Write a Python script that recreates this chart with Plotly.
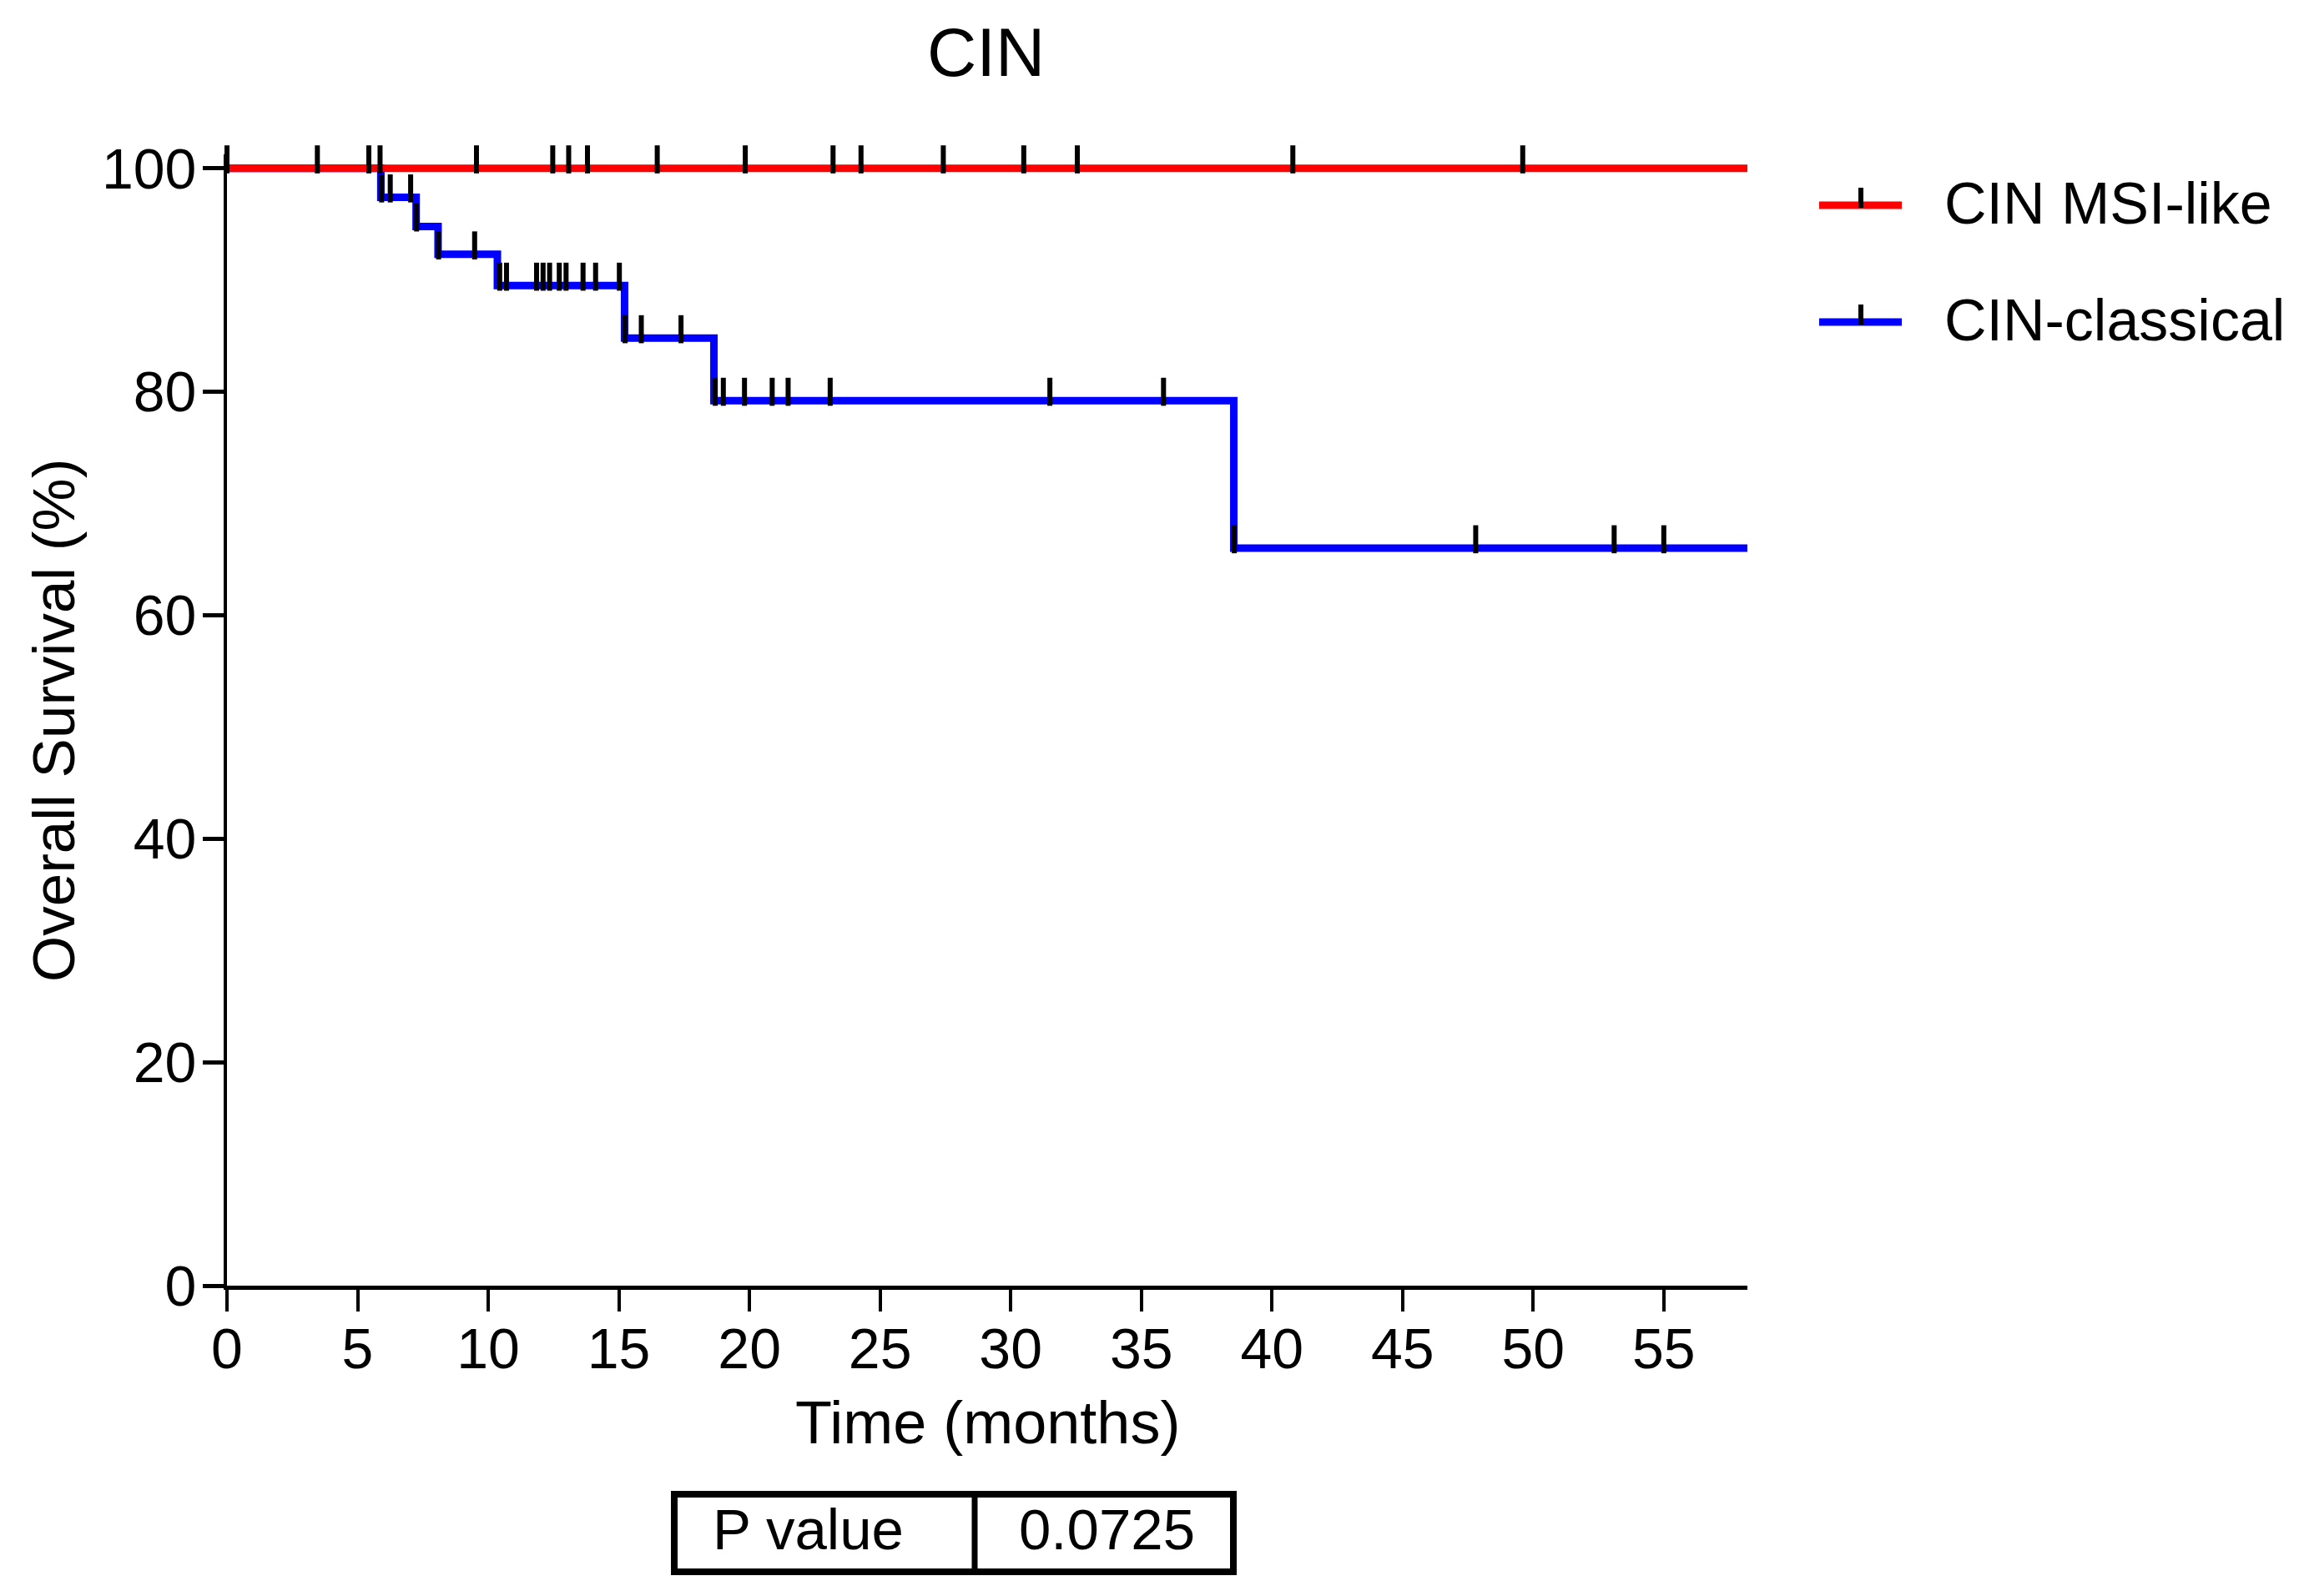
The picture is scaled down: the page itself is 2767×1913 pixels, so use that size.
import plotly.graph_objects as go

# ---------------- data ----------------
TITLE = "CIN"
X_TITLE = "Time (months)"
Y_TITLE = "Overall Survival (%)"
SERIES_NAMES = ["CIN MSI-like", "CIN-classical"]
X_TICKS = [0, 5, 10, 15, 20, 25, 30, 35, 40, 45, 50, 55]
Y_TICKS = [0, 20, 40, 60, 80, 100]
FOLLOW_UP_END = 58.2

# CIN MSI-like: no events, survival stays at 100 %
msi_step_times = [0]
msi_step_levels = [100]
msi_censor_times = [0, 3.46, 5.43, 5.86, 9.55, 12.47, 13.08, 13.8, 16.47,
                    19.84, 23.2, 24.27, 27.42, 30.5, 32.55, 40.8, 49.6]
msi_censor_levels = [100] * len(msi_censor_times)

# CIN-classical Kaplan-Meier steps
cls_step_times = [0, 5.89, 7.24, 8.08, 10.35, 15.22, 18.64, 38.54]
cls_step_levels = [100, 97.4, 94.8, 92.3, 89.5, 84.8, 79.2, 66.0]
cls_censor_times = [5.92, 6.25, 7.03,
                    7.26,
                    8.1, 9.48,
                    10.44, 10.7, 11.85, 12.1, 12.35, 12.72, 12.98, 13.63, 14.11, 15.02,
                    15.24, 15.86, 17.38,
                    18.69, 19.0, 19.81, 20.87, 21.48, 23.09, 31.5, 35.85,
                    38.56, 47.8, 53.1, 55.0]
cls_censor_levels = ([97.4] * 3 + [94.8] * 1 + [92.3] * 2 + [89.5] * 10 +
                     [84.8] * 3 + [79.2] * 8 + [66.0] * 4)

P_TABLE = ["P value", "0.0725"]

# ---------------- style ----------------
OFF = 8                      # page body margin
W, H = 2751, 1897
L, T = 272 - OFF, 185 - OFF
R = W - (2094 - OFF)
B = H - (1541 - OFF)
PW, PH = W - L - R, H - T - B
FONT = "Liberation Sans, Arial, sans-serif"
RED = "#ff0000"
BLUE = "#0000ff"
Y_MAX = 101.25
CENSOR_OFFSET = 0.8   # censor ticks sit just above the curve


def px_x(px):
    return (px - OFF - L) / PW


def px_y(py):
    return (H - B - (py - OFF)) / PH


fig = go.Figure()

# CIN-classical curve
fig.add_trace(go.Scatter(
    x=cls_step_times + [FOLLOW_UP_END],
    y=cls_step_levels + [cls_step_levels[-1]],
    mode="lines", line=dict(color=BLUE, width=9, shape="hv"),
    name=SERIES_NAMES[1], showlegend=False, hoverinfo="skip"))

# CIN MSI-like curve
fig.add_trace(go.Scatter(
    x=msi_step_times + [FOLLOW_UP_END],
    y=msi_step_levels + [msi_step_levels[-1]],
    mode="lines", line=dict(color=RED, width=9, shape="hv"),
    name=SERIES_NAMES[0], showlegend=False, hoverinfo="skip"))

# censor marks
for times, levels, nm in [(cls_censor_times, cls_censor_levels, SERIES_NAMES[1]),
                          (msi_censor_times, msi_censor_levels, SERIES_NAMES[0])]:
    fig.add_trace(go.Scatter(
        x=times, y=[v + CENSOR_OFFSET for v in levels],
        mode="markers", cliponaxis=False, showlegend=False, name=nm + " censored",
        marker=dict(symbol="line-ns", size=24, color="black",
                    line=dict(color="black", width=6))))

annotations = [
    dict(text=TITLE, x=px_x(1181), y=px_y(62), xref="paper", yref="paper",
         showarrow=False, xanchor="center", yanchor="middle",
         font=dict(family=FONT, size=82, color="black")),
    dict(text=X_TITLE, x=px_x(1183), y=px_y(1705), xref="paper", yref="paper",
         showarrow=False, xanchor="center", yanchor="middle",
         font=dict(family=FONT, size=72, color="black")),
    dict(text=Y_TITLE, x=px_x(64), y=px_y(864), xref="paper", yref="paper",
         showarrow=False, xanchor="center", yanchor="middle", textangle=-90,
         font=dict(family=FONT, size=71, color="black")),
]

shapes = []
# manual legend
legend_rows = [(SERIES_NAMES[0], RED, 246), (SERIES_NAMES[1], BLUE, 386)]
for name, col, py in legend_rows:
    shapes.append(dict(type="line", xref="paper", yref="paper",
                       x0=px_x(2180), x1=px_x(2279), y0=px_y(py), y1=px_y(py),
                       line=dict(color=col, width=9)))
    shapes.append(dict(type="line", xref="paper", yref="paper",
                       x0=px_x(2230), x1=px_x(2230), y0=px_y(py - 21), y1=px_y(py + 3),
                       line=dict(color="black", width=6)))
    annotations.append(dict(text=name, x=px_x(2328), y=px_y(py - 2),
                            xref="paper", yref="paper", showarrow=False,
                            xanchor="left", yanchor="middle",
                            font=dict(family=FONT, size=70, color="black")))

# P value table
shapes.append(dict(type="rect", xref="paper", yref="paper",
                   x0=px_x(808), x1=px_x(1478), y0=px_y(1791), y1=px_y(1884),
                   line=dict(color="black", width=8)))
shapes.append(dict(type="line", xref="paper", yref="paper",
                   x0=px_x(1168), x1=px_x(1168), y0=px_y(1791), y1=px_y(1884),
                   line=dict(color="black", width=7)))
annotations.append(dict(text=P_TABLE[0], x=px_x(968), y=px_y(1834),
                        xref="paper", yref="paper", showarrow=False,
                        xanchor="center", yanchor="middle",
                        font=dict(family=FONT, size=69, color="black")))
annotations.append(dict(text=P_TABLE[1], x=px_x(1326), y=px_y(1834),
                        xref="paper", yref="paper", showarrow=False,
                        xanchor="center", yanchor="middle",
                        font=dict(family=FONT, size=69, color="black")))

fig.update_layout(
    width=W, height=H,
    margin=dict(l=L, r=R, t=T, b=B, autoexpand=False),
    paper_bgcolor="white", plot_bgcolor="white",
    showlegend=False,
    font=dict(family=FONT, color="black"),
    annotations=annotations, shapes=shapes,
    xaxis=dict(range=[0, FOLLOW_UP_END], tickvals=X_TICKS, ticks="outside",
               ticklen=26, tickwidth=4, tickcolor="black",
               showline=True, linewidth=5, linecolor="black",
               showgrid=False, zeroline=False, ticklabelstandoff=-14,
               tickfont=dict(family=FONT, size=68, color="black")),
    yaxis=dict(range=[0, Y_MAX], tickvals=Y_TICKS, ticks="outside",
               ticklen=25, tickwidth=5, tickcolor="black",
               showline=True, linewidth=4, linecolor="black",
               showgrid=False, zeroline=False, ticklabelstandoff=-6,
               tickfont=dict(family=FONT, size=68, color="black")),
)

fig.write_html("out.html")
